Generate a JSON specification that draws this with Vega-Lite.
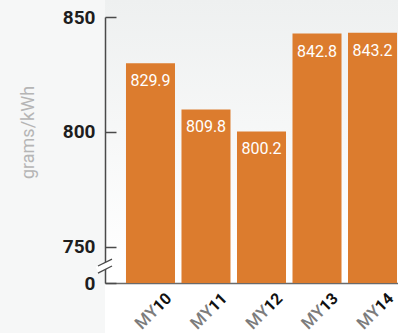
{
  "$schema": "https://vega.github.io/schema/vega-lite/v6.json",
  "width": 313,
  "height": 333,
  "autosize": {"type": "none"},
  "padding": {"left": 105, "top": 0, "right": 0, "bottom": 0},
  "background": "#f6f7f7",
  "view": {
    "stroke": null,
    "fill": {
      "gradient": "linear",
      "x1": 0, "y1": 0, "x2": 0, "y2": 1,
      "stops": [
        {"offset": 0, "color": "#eef0f0"},
        {"offset": 0.8, "color": "#ffffff"},
        {"offset": 1, "color": "#ffffff"}
      ]
    }
  },
  "config": {"font": "Roboto"},
  "data": {
    "values": [
      {"year": "MY10", "value": 829.9},
      {"year": "MY11", "value": 809.8},
      {"year": "MY12", "value": 800.2},
      {"year": "MY13", "value": 842.8},
      {"year": "MY14", "value": 843.2}
    ]
  },
  "resolve": {"axis": {"x": "independent"}},
  "layer": [
    {
      "mark": {"type": "bar", "color": "#dc7c2e"},
      "encoding": {
        "x": {
          "field": "year", "type": "nominal", "sort": null,
          "scale": {"paddingInner": 0.117, "paddingOuter": 0.378},
          "axis": {
            "orient": "bottom", "offset": -50, "title": null,
            "labelExpr": "substring(datum.label, 2)",
            "labelAngle": -45, "labelAlign": "right", "labelBaseline": "alphabetic",
            "labelOffset": 22, "labelPadding": 16,
            "labelFontSize": 16, "labelFontWeight": "bold", "labelColor": "#111111",
            "ticks": false, "tickSize": 0,
            "domain": true, "domainColor": "#6a6a6a", "domainWidth": 1.5
          }
        },
        "y": {
          "field": "value", "type": "quantitative",
          "scale": {"domain": [734.3, 850], "range": [283, 17], "zero": false, "nice": false},
          "axis": {
            "title": "grams/kWh",
            "titleColor": "#b5b5b5", "titleFontSize": 18, "titleFontWeight": "normal",
            "titleX": -68, "titleY": 132,
            "values": [734.3, 750, 800, 850],
            "labelExpr": "datum.value < 740 ? '0' : datum.label",
            "grid": false,
            "tickSize": -11, "tickColor": "#4a4a4a", "tickWidth": 1.5,
            "domainColor": "#4a4a4a", "domainWidth": 1.5,
            "labelFontSize": 19, "labelFontWeight": "bold", "labelColor": "#1e1e1e",
            "labelPadding": 21
          }
        },
        "y2": {"datum": 734.3}
      }
    },
    {
      "mark": {"type": "text", "baseline": "top", "dy": 10, "color": "#ffffff", "fontSize": 16},
      "encoding": {
        "x": {
          "field": "year", "type": "nominal", "sort": null,
          "scale": {"paddingInner": 0.117, "paddingOuter": 0.378},
          "axis": {
            "orient": "bottom", "offset": -50, "title": null,
            "labelExpr": "'MY'",
            "labelAngle": -45, "labelAlign": "right", "labelBaseline": "alphabetic",
            "labelOffset": 9, "labelPadding": 29,
            "labelFontSize": 17, "labelFontWeight": 500, "labelColor": "#7c7c7c",
            "ticks": false, "tickSize": 0, "domain": false
          }
        },
        "y": {
          "field": "value", "type": "quantitative",
          "scale": {"domain": [734.3, 850], "range": [283, 17], "zero": false, "nice": false},
          "axis": {
            "title": "grams/kWh",
            "titleColor": "#b5b5b5", "titleFontSize": 18, "titleFontWeight": "normal",
            "titleX": -68, "titleY": 132,
            "values": [734.3, 750, 800, 850],
            "labelExpr": "datum.value < 740 ? '0' : datum.label",
            "grid": false,
            "tickSize": -11, "tickColor": "#4a4a4a", "tickWidth": 1.5,
            "domainColor": "#4a4a4a", "domainWidth": 1.5,
            "labelFontSize": 19, "labelFontWeight": "bold", "labelColor": "#1e1e1e",
            "labelPadding": 21
          }
        },
        "text": {"field": "value", "type": "quantitative", "format": ".1f"}
      }
    },
    {
      "data": {"values": [{"y1": 740.1, "y2": 743.3}]},
      "mark": {"type": "rule", "color": "#ffffff", "strokeWidth": 6},
      "encoding": {
        "x": {"value": -8},
        "x2": {"value": 8},
        "y": {"field": "y1", "type": "quantitative", "scale": {"domain": [734.3, 850], "range": [283, 17], "zero": false, "nice": false},
          "axis": {
            "title": "grams/kWh",
            "titleColor": "#b5b5b5", "titleFontSize": 18, "titleFontWeight": "normal",
            "titleX": -68, "titleY": 132,
            "values": [734.3, 750, 800, 850],
            "labelExpr": "datum.value < 740 ? '0' : datum.label",
            "grid": false,
            "tickSize": -11, "tickColor": "#4a4a4a", "tickWidth": 1.5,
            "domainColor": "#4a4a4a", "domainWidth": 1.5,
            "labelFontSize": 19, "labelFontWeight": "bold", "labelColor": "#1e1e1e",
            "labelPadding": 21
          }},
        "y2": {"field": "y2"}
      }
    },
    {
      "data": {"values": [{"y1": 741.7, "y2": 744.7}, {"y1": 738.6, "y2": 741.7}]},
      "mark": {"type": "rule", "color": "#4a4a4a", "strokeWidth": 1.3},
      "encoding": {
        "x": {"value": -7},
        "x2": {"value": 7},
        "y": {"field": "y1", "type": "quantitative", "scale": {"domain": [734.3, 850], "range": [283, 17], "zero": false, "nice": false},
          "axis": {
            "title": "grams/kWh",
            "titleColor": "#b5b5b5", "titleFontSize": 18, "titleFontWeight": "normal",
            "titleX": -68, "titleY": 132,
            "values": [734.3, 750, 800, 850],
            "labelExpr": "datum.value < 740 ? '0' : datum.label",
            "grid": false,
            "tickSize": -11, "tickColor": "#4a4a4a", "tickWidth": 1.5,
            "domainColor": "#4a4a4a", "domainWidth": 1.5,
            "labelFontSize": 19, "labelFontWeight": "bold", "labelColor": "#1e1e1e",
            "labelPadding": 21
          }},
        "y2": {"field": "y2"}
      }
    }
  ]
}
